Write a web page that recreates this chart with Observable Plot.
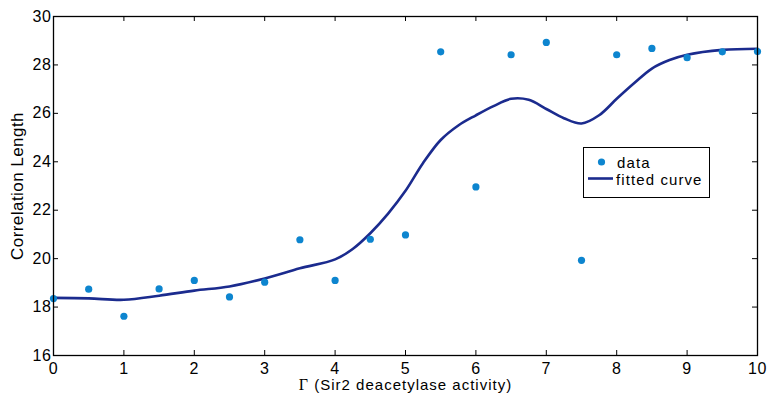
<!DOCTYPE html>
<html>
<head>
<meta charset="utf-8">
<script src="https://cdn.jsdelivr.net/npm/d3@7"></script>
<script src="https://cdn.jsdelivr.net/npm/@observablehq/plot@0.6"></script>
<style>
  html, body { margin: 0; padding: 0; background: #fff; }
  #chart svg { display: block; }
</style>
</head>
<body>
<div id="chart"></div>
<script>
// Data points (Γ, correlation length)
const dataX = [0, 0.5, 1, 1.5, 2, 2.5, 3, 3.5, 4, 4.5, 5, 5.5, 6, 6.5, 7, 7.5, 8, 8.5, 9, 9.5, 10];
const dataY = [18.35, 18.74, 17.62, 18.75, 19.1, 18.42, 19.03, 20.78, 19.1, 20.8, 20.98, 28.54, 22.96, 28.42, 28.93, 19.93, 28.42, 28.68, 28.3, 28.54, 28.55];

// Fitted curve samples
const fitX = [0, 0.5, 1, 1.5, 2, 2.5, 3, 3.5, 4, 4.25, 4.5, 4.75, 5, 5.25, 5.5, 5.75, 6, 6.25, 6.5, 6.75, 7, 7.25, 7.5, 7.75, 8, 8.25, 8.5, 8.75, 9, 9.5, 10];
const fitY = [18.38, 18.36, 18.3, 18.47, 18.68, 18.85, 19.18, 19.6, 19.97, 20.4, 21.05, 21.85, 22.8, 23.95, 24.9, 25.5, 25.92, 26.3, 26.6, 26.56, 26.18, 25.8, 25.58, 25.92, 26.6, 27.25, 27.85, 28.2, 28.42, 28.62, 28.67];

const xTicks = [0, 1, 2, 3, 4, 5, 6, 7, 8, 9, 10];
const yTicks = [16, 18, 20, 22, 24, 26, 28, 30];

const xLabel = "Γ (Sir2 deacetylase activity)";
const yLabel = "Correlation Length";
const legendLabels = ["data", "fitted curve"];

const dotColor = "#0d85cf";
const lineColor = "#1b2b8e";

const points = dataX.map((x, i) => ({x, y: dataY[i]}));
const fit = fitX.map((x, i) => ({x, y: fitY[i]}));

const W = 767, H = 394;
const mL = 53, mR = 10, mT = 16, mB = 39;
const innerH = H - mT - mB;
const innerW = W - mL - mR;
const tk = 5;

const chart = Plot.plot({
  width: W,
  height: H,
  marginLeft: mL,
  marginRight: mR,
  marginTop: mT,
  marginBottom: mB,
  style: {fontFamily: "'Liberation Sans', Arial, Helvetica, sans-serif", fontSize: "16px", color: "#000", background: "#fff"},
  x: {domain: [0, 10]},
  y: {domain: [16, 30]},
  marks: [
    // inward ticks on all four sides
    Plot.ruleX(xTicks, {x: d => d, insetTop: innerH - tk, stroke: "#000", strokeWidth: 1}),
    Plot.ruleX(xTicks, {x: d => d, insetBottom: innerH - tk, stroke: "#000", strokeWidth: 1}),
    Plot.ruleY(yTicks, {y: d => d, insetRight: innerW - tk, stroke: "#000", strokeWidth: 1}),
    Plot.ruleY(yTicks, {y: d => d, insetLeft: innerW - tk, stroke: "#000", strokeWidth: 1}),
    Plot.axisX(xTicks, {tickSize: 0, tickPadding: 7, label: null, fontSize: 16, className: "xticks"}),
    Plot.axisY(yTicks, {tickSize: 0, tickPadding: 2, label: null, fontSize: 16, className: "yticks"}),
    Plot.line(fit, {x: "x", y: "y", stroke: lineColor, strokeWidth: 2.6, curve: "catmull-rom"}),
    Plot.dot(points, {x: "x", y: "y", r: 3.6, fill: dotColor, stroke: "none"}),
    Plot.frame({stroke: "#000", strokeWidth: 1.3}),
    Plot.text([yLabel], {text: d => d, frameAnchor: "left", textAnchor: "middle", lineAnchor: "middle", dx: -36, rotate: -90, fontSize: 17, fill: "#000", className: "ylab"}),
    Plot.text([xLabel], {text: d => d, frameAnchor: "bottom", textAnchor: "middle", lineAnchor: "middle", dy: 30, fontSize: 15, fill: "#000", className: "xlab"})
  ]
});

document.getElementById("chart").appendChild(chart);

const svg = d3.select(chart);
// Slightly wider lettering, like the reference's Helvetica
svg.selectAll("g.xticks text, g.yticks text").style("letter-spacing", "0.6px");
svg.selectAll("g.ylab text").style("letter-spacing", "0.45px");
// Render Γ in a serif face, like the reference
svg.selectAll("g.xlab text").style("letter-spacing", "1px").each(function() {
  const t = d3.select(this);
  const s = t.text();
  t.text(null);
  t.append("tspan").style("font-family", "'Liberation Serif', 'DejaVu Serif', serif").style("font-size", "16px").text(s.slice(0, 1));
  t.append("tspan").text(s.slice(1));
});

// Legend box
const lg = svg.append("g")
  .attr("font-family", "'Liberation Sans', Arial, Helvetica, sans-serif")
  .attr("font-size", 15)
  .attr("text-anchor", "start");
lg.append("rect").attr("x", 583.5).attr("y", 147.5).attr("width", 126).attr("height", 50)
  .attr("fill", "#fff").attr("stroke", "#000").attr("stroke-width", 1);
lg.append("circle").attr("cx", 601.5).attr("cy", 162).attr("r", 3.6).attr("fill", dotColor);
lg.append("line").attr("x1", 588).attr("x2", 613).attr("y1", 178.5).attr("y2", 178.5)
  .attr("stroke", lineColor).attr("stroke-width", 2.6);
lg.append("text").attr("x", 617).attr("y", 168).style("letter-spacing", "1.1px").text(legendLabels[0]);
lg.append("text").attr("x", 616).attr("y", 185).style("letter-spacing", "1.1px").text(legendLabels[1]);
</script>
</body>
</html>
